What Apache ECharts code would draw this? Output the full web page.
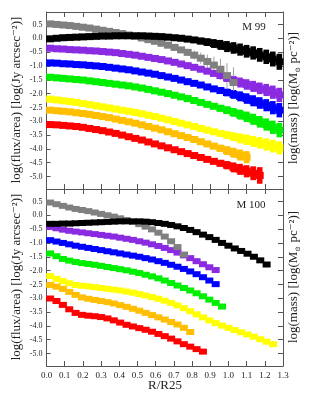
<!DOCTYPE html>
<html>
<head>
<meta charset="utf-8">
<script src="https://cdn.jsdelivr.net/npm/echarts@6/dist/echarts.min.js"></script>
<style>
html,body{margin:0;padding:0;background:#fff;}
#c{width:311px;height:404px;}
</style>
</head>
<body>
<div id="c"></div>
<script>
// ---------- DATA ----------
const yTickValues = [-5.0,-4.5,-4.0,-3.5,-3.0,-2.5,-2.0,-1.5,-1.0,-0.5,0.0,0.5];
const xTickLabels = ['0.0','0.1','0.2','0.3','0.4','0.5','0.6','0.7','0.8','0.9','1.0','1.1','1.2','1.3'];

// M 99 radii (R/R25)
const m99R = [0.02,0.056,0.092,0.128,0.164,0.2,0.236,0.272,0.308,0.344,0.38,0.416,0.452,0.488,0.524,0.56,0.596,0.632,0.668,0.704,0.74,0.776,0.812,0.848,0.884,0.92,0.956,0.992,1.028,1.064,1.1,1.136,1.172,1.208,1.244,1.28];
const m99Gray   = [0.52,0.50,0.48,0.46,0.43,0.40,0.37,0.33,0.29,0.25,0.21,0.17,0.12,0.07,0.01,-0.05,-0.11,-0.18,-0.25,-0.33,-0.42,-0.51,-0.61,-0.72,-0.84,-0.97,-1.12,-1.35,-1.60];
const m99Black  = [-0.02,0.0,0.02,0.03,0.04,0.05,0.06,0.07,0.08,0.08,0.09,0.09,0.09,0.09,0.09,0.08,0.07,0.06,0.04,0.02,0.0,-0.03,-0.06,-0.10,-0.14,-0.19,-0.24,-0.30,-0.35,-0.41,-0.47,-0.53,-0.60,-0.67,-0.75,-0.85];
const m99Purple = [-0.36,-0.38,-0.39,-0.41,-0.42,-0.43,-0.45,-0.46,-0.48,-0.50,-0.52,-0.55,-0.58,-0.61,-0.65,-0.69,-0.73,-0.77,-0.82,-0.87,-0.93,-0.99,-1.05,-1.12,-1.19,-1.27,-1.35,-1.44,-1.52,-1.60,-1.67,-1.74,-1.81,-1.87,-1.95,-2.05];
const m99Blue   = [-0.89,-0.90,-0.92,-0.93,-0.95,-0.96,-0.98,-1.00,-1.02,-1.05,-1.08,-1.11,-1.14,-1.18,-1.22,-1.26,-1.30,-1.35,-1.40,-1.45,-1.51,-1.57,-1.63,-1.69,-1.76,-1.83,-1.89,-1.96,-2.03,-2.10,-2.18,-2.26,-2.34,-2.42,-2.51,-2.60];
const m99Green  = [-1.41,-1.43,-1.45,-1.47,-1.49,-1.51,-1.54,-1.57,-1.60,-1.63,-1.66,-1.69,-1.72,-1.76,-1.80,-1.85,-1.90,-1.95,-2.00,-2.06,-2.12,-2.18,-2.25,-2.32,-2.39,-2.46,-2.53,-2.60,-2.68,-2.76,-2.84,-2.93,-3.02,-3.12,-3.22,-3.32];
const m99Yellow = [-2.20,-2.23,-2.26,-2.29,-2.32,-2.36,-2.40,-2.44,-2.48,-2.52,-2.56,-2.60,-2.64,-2.68,-2.73,-2.78,-2.83,-2.89,-2.95,-3.01,-3.07,-3.13,-3.19,-3.26,-3.32,-3.38,-3.44,-3.50,-3.56,-3.62,-3.67,-3.73,-3.78,-3.84,-3.90,-3.96];
const m99Orange = [-2.60,-2.62,-2.64,-2.66,-2.69,-2.72,-2.75,-2.79,-2.83,-2.87,-2.92,-2.97,-3.02,-3.07,-3.13,-3.19,-3.25,-3.31,-3.38,-3.45,-3.52,-3.59,-3.66,-3.74,-3.82,-3.90,-3.98,-4.06,-4.14,-4.22,-4.30];
const m99Red    = [-3.12,-3.13,-3.15,-3.17,-3.19,-3.22,-3.26,-3.30,-3.34,-3.39,-3.44,-3.50,-3.56,-3.62,-3.68,-3.75,-3.82,-3.89,-3.96,-4.03,-4.10,-4.17,-4.24,-4.31,-4.38,-4.45,-4.52,-4.59,-4.67,-4.74,-4.81,-4.88,-4.96];

// M 99 uncertainties for the outermost points (aligned to the end of each series)
const m99GrayErr   = [0.05,0.08,0.10,0.13,0.16,0.20,0.25,0.30,0.38,0.45,0.55];
const m99BlackErr  = [0.10,0.12,0.14,0.16,0.18,0.20,0.21,0.22,0.23,0.24,0.25,0.26,0.27,0.29];
const m99PurpleErr = [0.08,0.10,0.12,0.14,0.16,0.18,0.19,0.20,0.21,0.22,0.24,0.26];
const m99BlueErr   = [0.08,0.10,0.12,0.14,0.16,0.18,0.19,0.20,0.21,0.22,0.24,0.26];
const m99GreenErr  = [0.08,0.10,0.12,0.14,0.16,0.18,0.19,0.20,0.21,0.22,0.24,0.26];
const m99YellowErr = [0.08,0.10,0.12,0.14,0.16,0.18,0.19,0.20,0.21,0.22,0.23,0.24];
const m99OrangeErr = [0.08,0.10,0.13,0.16,0.18,0.20,0.22];
const m99RedErr    = [0.08,0.10,0.12,0.15,0.18,0.20,0.22,0.25,0.30];

// M 100 radii (R/R25)
const m100R = [0.02,0.055,0.09,0.125,0.16,0.195,0.23,0.265,0.3,0.335,0.37,0.405,0.44,0.475,0.51,0.545,0.58,0.615,0.65,0.685,0.72,0.755,0.79,0.825,0.86,0.895,0.93,0.965,1.0,1.035,1.07,1.105,1.14,1.175,1.21,1.245];
const m100Gray   = [0.46,0.40,0.34,0.28,0.23,0.19,0.15,0.10,0.05,0.0,-0.05,-0.11,-0.17,-0.24,-0.32,-0.41,-0.51,-0.63,-0.77,-0.94,-1.15,-1.42];
const m100Black  = [-0.31,-0.31,-0.30,-0.30,-0.29,-0.28,-0.27,-0.26,-0.25,-0.24,-0.23,-0.22,-0.22,-0.22,-0.22,-0.23,-0.25,-0.28,-0.31,-0.35,-0.40,-0.46,-0.53,-0.61,-0.70,-0.79,-0.89,-1.00,-1.10,-1.20,-1.29,-1.39,-1.50,-1.63,-1.78];
const m100Purple = [-0.42,-0.47,-0.52,-0.56,-0.59,-0.62,-0.65,-0.68,-0.71,-0.74,-0.77,-0.81,-0.85,-0.89,-0.94,-0.99,-1.05,-1.11,-1.18,-1.26,-1.35,-1.45,-1.55,-1.66,-1.77,-1.88,-1.98];
const m100Blue   = [-0.90,-0.95,-1.00,-1.05,-1.10,-1.14,-1.18,-1.22,-1.26,-1.30,-1.34,-1.38,-1.42,-1.46,-1.50,-1.55,-1.60,-1.66,-1.72,-1.79,-1.86,-1.94,-2.03,-2.13,-2.24,-2.36,-2.49];
const m100Green  = [-1.38,-1.48,-1.58,-1.64,-1.69,-1.73,-1.76,-1.79,-1.83,-1.87,-1.91,-1.95,-1.99,-2.04,-2.09,-2.15,-2.21,-2.28,-2.36,-2.45,-2.54,-2.63,-2.72,-2.82,-2.93,-3.05,-3.17,-3.30];
const m100Yellow = [-2.20,-2.30,-2.38,-2.46,-2.52,-2.55,-2.57,-2.60,-2.63,-2.66,-2.69,-2.72,-2.76,-2.80,-2.85,-2.90,-2.96,-3.02,-3.09,-3.17,-3.26,-3.36,-3.47,-3.58,-3.69,-3.80,-3.90,-3.99,-4.07,-4.15,-4.23,-4.31,-4.39,-4.48,-4.57,-4.66];
const m100Orange = [-2.52,-2.58,-2.66,-2.77,-2.88,-2.97,-3.02,-3.06,-3.10,-3.14,-3.19,-3.25,-3.31,-3.38,-3.45,-3.53,-3.61,-3.69,-3.77,-3.86,-3.95,-4.07,-4.22];
const m100Red    = [-3.01,-3.10,-3.24,-3.40,-3.53,-3.60,-3.63,-3.65,-3.68,-3.73,-3.80,-3.88,-3.96,-4.02,-4.08,-4.14,-4.21,-4.29,-4.37,-4.46,-4.56,-4.66,-4.75,-4.84,-4.93];

// ---------- CHART ----------
const COLORS = {gray:'#808080', black:'#000000', purple:'#8a2be2', blue:'#0000ff', green:'#00ee00', yellow:'#ffff00', orange:'#ffbf00', red:'#ff0000'};
const SERIF = "'Liberation Serif','DejaVu Serif',serif";
const AXC = '#555';

const panels = [
  {R:m99R, size:[8,7], xb:0, yl:0, sets:[
    ['purple',m99Purple,m99PurpleErr],['blue',m99Blue,m99BlueErr],['green',m99Green,m99GreenErr],
    ['yellow',m99Yellow,m99YellowErr],['orange',m99Orange,m99OrangeErr],['red',m99Red,m99RedErr],
    ['gray',m99Gray,m99GrayErr],['black',m99Black,m99BlackErr]]},
  {R:m100R, size:[8,6], xb:2, yl:2, sets:[
    ['purple',m100Purple,null],['blue',m100Blue,null],['green',m100Green,null],
    ['yellow',m100Yellow,null],['orange',m100Orange,null],['red',m100Red,null],
    ['gray',m100Gray,null],['black',m100Black,null]]}
];

const series = [];
panels.forEach(p => {
  p.sets.forEach(([name, vals, err]) => {
    const color = COLORS[name];
    if (err) {
      const off = vals.length - err.length;
      const ed = err.map((e, k) => [p.R[off + k], vals[off + k], e]);
      const thin = name === 'gray';
      series.push({
        type:'custom', xAxisIndex:p.xb, yAxisIndex:p.yl, data:ed, silent:true,
        encode:{x:0, y:1},
        renderItem:(params, api) => {
          const x = api.value(0), v = api.value(1), e = api.value(2);
          const t = api.coord([x, v + e]), b = api.coord([x, v - e]);
          if (thin) {
            return {type:'line', shape:{x1:t[0], y1:t[1], x2:b[0], y2:b[1]}, style:{stroke:'#a0a0a0', lineWidth:1}};
          }
          return {type:'rect', shape:{x:t[0]-2.8, y:t[1], width:5.6, height:b[1]-t[1]}, style:{fill:color}};
        }
      });
    }
    series.push({
      type:'scatter', xAxisIndex:p.xb, yAxisIndex:p.yl, symbol:'rect', symbolSize:p.size,
      itemStyle:{color:color, opacity:1, borderWidth:0}, silent:true, animation:false,
      data: vals.map((v, i) => [p.R[i], v])
    });
  });
});

function xAx(grid, pos, labels) {
  return {type:'value', gridIndex:grid, position:pos, min:0, max:1.3, interval:0.1,
    axisLine:{show:true, onZero:false, lineStyle:{color:AXC, width:1}},
    axisTick:{show:true, inside:true, length:5, lineStyle:{color:AXC}},
    axisLabel:{show:labels, margin:5, fontFamily:SERIF, fontSize:9, color:'#222',
      formatter:(v) => xTickLabels[Math.round(v*10)]},
    splitLine:{show:false}};
}
function yAx(grid, pos, labels) {
  return {type:'value', gridIndex:grid, position:pos, min:-5.45, max:0.95,
    axisLine:{show:true, onZero:false, lineStyle:{color:AXC, width:1}},
    axisTick:{show:true, inside:true, length:pos==='left'?4:5, lineStyle:{color:AXC}, customValues:yTickValues},
    axisLabel:{show:labels, margin:4, fontFamily:SERIF, fontSize:8, color:'#222', customValues:yTickValues,
      formatter:(v) => v.toFixed(1)},
    splitLine:{show:false}};
}

const chart = echarts.init(document.getElementById('c'), null, {renderer:'canvas'});
chart.setOption({
  animation:false,
  backgroundColor:'#fff',
  grid:[
    {left:46.5, top:12, width:236.5, height:177},
    {left:46.5, top:189, width:236.5, height:177}
  ],
  xAxis:[xAx(0,'bottom',false), xAx(0,'top',false), xAx(1,'bottom',true), xAx(1,'top',false)],
  yAxis:[yAx(0,'left',true), yAx(0,'right',false), yAx(1,'left',true), yAx(1,'right',false)],
  series:series,
  graphic:[
    {type:'text', x:254, y:27, style:{text:'M 99', font:"11px "+SERIF, fill:'#222', align:'center', verticalAlign:'middle'}},
    {type:'text', x:251, y:205, style:{text:'M 100', font:"11px "+SERIF, fill:'#222', align:'center', verticalAlign:'middle'}},
    {type:'text', x:165, y:386, style:{text:'R/R25', font:"13px "+SERIF, fill:'#222', align:'center', verticalAlign:'middle'}},
    {type:'text', x:17, y:100, rotation:Math.PI/2, style:{text:'log(flux/area) [log(Jy arcsec⁻²)]', font:"13px "+SERIF, fill:'#222', align:'center', verticalAlign:'middle'}},
    {type:'text', x:17, y:277, rotation:Math.PI/2, style:{text:'log(flux/area) [log(Jy arcsec⁻²)]', font:"13px "+SERIF, fill:'#222', align:'center', verticalAlign:'middle'}},
    {type:'text', x:294, y:98, rotation:Math.PI/2, style:{text:'{a|log(mass) [log(M}{s|⊙}{a| pc⁻²)]}', align:'center', verticalAlign:'middle',
      rich:{a:{font:"13px "+SERIF, fill:'#222', lineHeight:15, verticalAlign:'middle'}, s:{font:"7px "+SERIF, fill:'#222', verticalAlign:'bottom', lineHeight:15}}}},
    {type:'text', x:294, y:277, rotation:Math.PI/2, style:{text:'{a|log(mass) [log(M}{s|⊙}{a| pc⁻²)]}', align:'center', verticalAlign:'middle',
      rich:{a:{font:"13px "+SERIF, fill:'#222', lineHeight:15, verticalAlign:'middle'}, s:{font:"7px "+SERIF, fill:'#222', verticalAlign:'bottom', lineHeight:15}}}}
  ]
});
</script>
</body>
</html>
